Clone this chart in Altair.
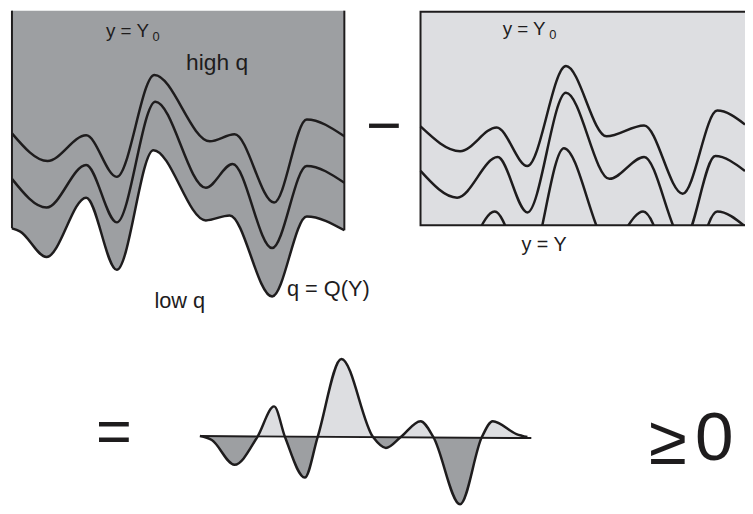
import altair as alt
import pandas as pd

# ---------------- data (page-pixel units) ----------------
# left panel: three level curves (top -> bottom)
lp_x_A = [12, 48, 87, 118, 156, 212, 237, 277, 310, 348]
lp_y_A = [132, 160, 134, 176, 73, 140, 133, 202, 118, 135]
lp_x_B = [12, 47, 87, 118, 157, 208, 235, 275, 310, 348]
lp_y_B = [178, 207, 164, 222, 100, 187, 163, 248, 165, 182]
lp_x_C = [12, 20, 47, 87, 118, 155, 208, 232, 275, 310, 348]
lp_y_C = [228, 231, 257, 197, 270, 149, 220, 215, 297, 216, 230]

# right panel: the same three curves, cut off at y = Y
rp_x_A = [425, 465, 502, 533, 572, 613, 651, 690, 725, 753]
rp_y_A = [125, 150, 126, 165, 64, 135, 124, 193, 109, 123]
rp_x_B = [425, 462, 503, 533, 572, 616, 651, 691, 723, 753]
rp_y_B = [170, 197, 156, 212, 91, 178, 156, 240, 155, 170]
rp_x_C = [425, 462, 500, 533, 570, 616, 650, 690, 725, 753]
rp_y_C = [250, 262, 211, 270, 147, 245, 211, 290, 211, 226]

# bottom: the difference curve around its zero line
diff_x = [202, 214, 237, 260, 277, 288, 308, 321, 345, 377, 390, 405, 425, 438, 465, 487, 498, 522, 533]
diff_y = [438, 442, 467, 439, 408, 439, 480, 439, 360, 439, 450, 439, 423, 439, 507, 439, 423, 436, 439]
diff_zero = 439

# frames
left_top, left_x0, left_x1, left_bot0, left_bot1 = 8, 12, 348, 228, 230
right_x0, right_x1, right_top, right_bottom = 425, 770, 9, 225

# labels
labels_left = pd.DataFrame({
    "text": ["y = Y", "0", "high q", "low q", "q = Q(Y)", "y = Y", "0", "y = Y"],
    "x":    [107, 154, 188, 156, 290, 508, 555, 527],
    "y":    [35, 39, 68, 309, 296, 33, 37, 251],
    "size": [19, 13, 23, 22, 22, 19, 13, 20],
})
labels_center = pd.DataFrame({
    "text": ["\u2212", "=", "\u2265", "0"],
    "x":    [388, 115, 675, 722],
    "y":    [145, 454, 466, 462],
    "size": [62, 62, 70, 70],
})

# ---------------- styles ----------------
INK = "#1e1c1d"
DARK = "#9d9fa2"
LIGHT = "#dddee1"
FONT = "Liberation Sans"

xs = alt.Scale(domain=[8, 753], nice=False, zero=False)
ys = alt.Scale(domain=[8, 506], nice=False, zero=False, reverse=True)


def X(f="x"):
    return alt.X(f"{f}:Q", scale=xs, axis=None)


def Y(f="y"):
    return alt.Y(f"{f}:Q", scale=ys, axis=None)


def curves(pairs):
    rows = []
    for name, xx, yy in pairs:
        for a, b in zip(xx, yy):
            rows.append({"curve": name, "x": a, "y": b})
    return pd.DataFrame(rows)


left_df = curves([("A", lp_x_A, lp_y_A), ("B", lp_x_B, lp_y_B), ("C", lp_x_C, lp_y_C)])
right_df = curves([("A", rp_x_A, rp_y_A), ("B", rp_x_B, rp_y_B), ("C", rp_x_C, rp_y_C)])
fill_df = pd.DataFrame({"x": lp_x_C, "y": lp_y_C, "top": left_top})
diff_df = pd.DataFrame({"x": diff_x, "y": diff_y, "zero": diff_zero})

# left panel gray fill (top edge to the lowest curve)
left_fill = alt.Chart(fill_df).mark_area(interpolate="monotone", color=DARK).encode(
    x=X(), y=Y(), y2="top:Q"
)
left_sides = alt.Chart(pd.DataFrame({
    "x": [left_x0, left_x1], "y": [left_top, left_top], "y2": [left_bot0, left_bot1]
})).mark_rule(color=INK, strokeWidth=2).encode(x=X(), y=Y(), y2="y2:Q")
left_lines = alt.Chart(left_df).mark_line(
    interpolate="monotone", color=INK, strokeWidth=2.5
).encode(x=X(), y=Y(), detail="curve:N")

# right panel: fill, curves, white mask below y = Y, then the frame on top
frame_df = pd.DataFrame({
    "x": [right_x0], "x2": [right_x1], "y": [right_top], "y2": [right_bottom]
})
right_fill = alt.Chart(frame_df).mark_rect(fill=LIGHT).encode(
    x=X(), x2="x2:Q", y=Y(), y2="y2:Q"
)
right_lines = alt.Chart(right_df).mark_line(
    interpolate="monotone", color=INK, strokeWidth=2.5
).encode(x=X(), y=Y(), detail="curve:N")
mask_df = pd.DataFrame({
    "x": [right_x0 - 8], "x2": [right_x1], "y": [right_bottom], "y2": [max(rp_y_C) + 15]
})
right_mask = alt.Chart(mask_df).mark_rect(fill="white").encode(
    x=X(), x2="x2:Q", y=Y(), y2="y2:Q"
)
right_frame = alt.Chart(frame_df).mark_rect(
    fillOpacity=0, stroke=INK, strokeWidth=2
).encode(x=X(), x2="x2:Q", y=Y(), y2="y2:Q")

# bottom difference curve
top_d, bot_d = min(diff_y), max(diff_y)
off = (diff_zero - top_d) / (bot_d - top_d)
grad = alt.Gradient(
    gradient="linear", x1=0, y1=0, x2=0, y2=1,
    stops=[
        alt.GradientStop(offset=0, color=LIGHT),
        alt.GradientStop(offset=off, color=LIGHT),
        alt.GradientStop(offset=off, color=DARK),
        alt.GradientStop(offset=1, color=DARK),
    ],
)
diff_fill = alt.Chart(diff_df).mark_area(interpolate="monotone", color=grad).encode(
    x=X(), y=Y(), y2="zero:Q"
)
diff_base = alt.Chart(pd.DataFrame({
    "x": [diff_x[0]], "x2": [537], "y": [438], "y2": [440]
})).mark_rule(color=INK, strokeWidth=2).encode(x=X(), x2="x2:Q", y=Y(), y2="y2:Q")
diff_line = alt.Chart(diff_df).mark_line(
    interpolate="monotone", color=INK, strokeWidth=2.5
).encode(x=X(), y=Y())

# texts
txt_left = alt.Chart(labels_left).mark_text(
    align="left", baseline="alphabetic", font=FONT, color=INK
).encode(x=X(), y=Y(), text="text:N", size=alt.Size("size:Q", scale=None))
txt_center = alt.Chart(labels_center).mark_text(
    align="center", baseline="alphabetic", font=FONT, color=INK
).encode(x=X(), y=Y(), text="text:N", size=alt.Size("size:Q", scale=None))

chart = alt.layer(
    left_fill, left_sides, left_lines,
    right_fill, right_lines, right_mask, right_frame,
    diff_fill, diff_base, diff_line,
    txt_left, txt_center,
).properties(
    width=745, height=498, padding=0,
    autosize=alt.AutoSizeParams(type="none"),
    background="white",
).configure_view(stroke=None)

chart.save("out.html", embed_options={"renderer": "svg", "actions": False})
